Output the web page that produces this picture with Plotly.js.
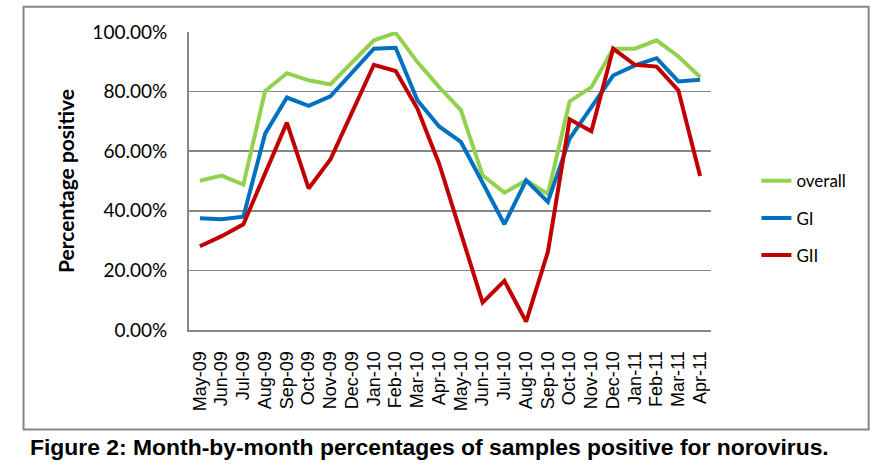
<!DOCTYPE html>
<html>
<head>
<meta charset="utf-8">
<script src="https://cdn.plot.ly/plotly-3.0.1.min.js"></script>
<style>html,body{margin:0;padding:0;background:#fff;}#chart{width:895px;height:467px;}</style>
</head>
<body>
<div id="chart"></div>
<script>
const months = ["May-09","Jun-09","Jul-09","Aug-09","Sep-09","Oct-09","Nov-09","Dec-09","Jan-10","Feb-10","Mar-10","Apr-10",
                "May-10","Jun-10","Jul-10","Aug-10","Sep-10","Oct-10","Nov-10","Dec-10","Jan-11","Feb-11","Mar-11","Apr-11"];
const overall = [50.1,51.8,48.8,80.2,86.2,83.8,82.4,89.6,97.2,99.7,89.9,81.5,73.8,51.9,46.1,50.2,45.6,76.7,81.5,94.4,94.4,97.2,91.8,84.9];
const gi      = [37.5,37.2,38.0,65.9,78.0,75.2,78.4,86.4,94.4,94.7,77.1,68.3,63.1,49.4,35.5,50.2,43.0,64.2,74.8,85.4,88.8,91.2,83.4,84.0];
const gii     = [28.1,31.5,35.5,52.5,69.6,47.5,57.2,73.1,89.0,86.9,74.3,55.8,32.2, 9.2,16.5, 2.8,26.2,70.7,66.7,94.4,89.0,88.4,80.4,51.7];
const seriesNames = ["overall","GI","GII"];
const seriesColors = ["#92D050","#0070C0","#C00000"];
const yTicks = [0,20,40,60,80,100];
const yTickLabels = ["0.00%","20.00%","40.00%","60.00%","80.00%","100.00%"];
const caption = "Figure 2: Month-by-month percentages of samples positive for norovirus.";

const allSeries = [overall, gi, gii];
const traces = allSeries.map((vals, k) => ({
  x: months, y: vals, type: "scatter", mode: "lines", name: seriesNames[k],
  legendgroup: seriesNames[k],
  line: {color: seriesColors[k], width: 4}
}));

const layout = {
  width: 895, height: 467,
  margin: {l: 189, r: 184, t: 32, b: 137},
  paper_bgcolor: "#ffffff", plot_bgcolor: "#ffffff",
  showlegend: true,
  legend: {x: 1.087, y: 0.375, xanchor: "left", yanchor: "middle",
           font: {family: "Lato, sans-serif", size: 17, color: "#000"},
           tracegroupgap: 12, bgcolor: "rgba(0,0,0,0)"},
  xaxis: {
    type: "category", range: [-0.5, 23.5], tickangle: -90,
    tickmode: "array", tickvals: months, ticktext: months,
    tickfont: {family: "Liberation Sans, Arial, sans-serif", size: 18, color: "#000"},
    showline: true, linecolor: "#868686", linewidth: 2, showgrid: false, zeroline: false,
    ticks: "", ticklabelstandoff: 12, fixedrange: true
  },
  yaxis: {
    range: [0, 100], tickmode: "array", tickvals: yTicks, ticktext: yTickLabels,
    tickfont: {family: "Lato, sans-serif", size: 19, color: "#000"},
    showline: true, linecolor: "#868686", linewidth: 2,
    showgrid: true, gridcolor: "#868686", gridwidth: 1.6, zeroline: false,
    ticks: "", ticklabelstandoff: 16,
    title: {text: "<b>Percentage positive</b>", font: {family: "Lato, sans-serif", size: 21, color: "#000"}, standoff: 12},
    fixedrange: true
  },
  shapes: [{type: "rect", xref: "paper", yref: "paper", x0: -0.317, x1: 1.302, y0: -0.334, y1: 1.0845,
            line: {color: "#868686", width: 2}, fillcolor: "rgba(0,0,0,0)", layer: "below"}],
  annotations: [{text: "<b>" + caption + "</b>", xref: "paper", yref: "paper", x: -0.3085, y: -0.391,
                 xanchor: "left", yanchor: "middle", showarrow: false,
                 font: {family: "Liberation Sans, Arial, sans-serif", size: 22.9, color: "#000"}}]
};
Plotly.newPlot("chart", traces, layout, {displayModeBar: false, staticPlot: true});
</script>
</body>
</html>
